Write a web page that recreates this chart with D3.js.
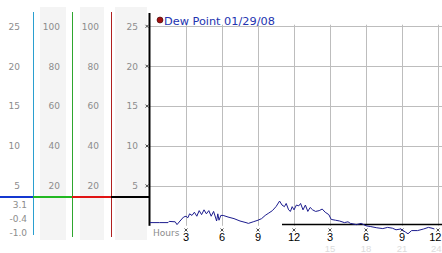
<!DOCTYPE html>
<html lang="en">
<head>
  <meta charset="UTF-8">
  <title>Dew Point 01/29/08</title>
  <script src="https://d3js.org/d3.v7.min.js"></script>
  <style>
    body { margin: 0; padding: 0; background: #fff; }
    svg { display: block; }
  </style>
</head>
<body>
  <script>
    // dew point readings, [hour, value]
    const dewPoint = [
      [0, 0.4], [0.8, 0.4], [1.5, 0.4], [1.6, 0.55], [2.1, 0.5], [2.25, 0.15], [2.5, 0.6],
      [2.8, 1.1], [3.0, 1.2], [3.15, 1.0], [3.3, 1.5], [3.5, 1.3], [3.7, 1.7], [3.9, 1.2],
      [4.1, 1.9], [4.3, 1.4], [4.5, 2.0], [4.7, 1.5], [4.9, 1.9], [5.1, 1.2], [5.3, 1.8],
      [5.45, 1.1], [5.55, 0.6], [5.65, 1.5], [5.75, 0.7], [5.9, 1.3], [6.1, 1.3], [6.5, 1.1],
      [7.0, 0.9], [7.5, 0.6], [8.0, 0.4], [8.2, 0.3], [8.6, 0.5], [9.0, 0.7], [9.3, 0.9],
      [9.6, 1.3], [9.9, 1.6], [10.2, 1.9], [10.5, 2.4], [10.8, 3.1], [11.0, 2.6], [11.2, 2.4],
      [11.35, 2.8], [11.55, 2.0], [11.7, 1.8], [11.85, 2.4], [12.0, 2.0], [12.2, 2.6],
      [12.4, 2.5], [12.55, 2.8], [12.75, 2.0], [12.95, 2.6], [13.15, 1.8], [13.35, 2.3],
      [13.55, 2.0], [13.8, 1.8], [14.1, 1.9], [14.35, 2.1], [14.6, 1.7], [14.9, 1.4],
      [15.1, 0.8], [15.45, 0.7], [15.8, 0.6], [16.2, 0.4], [16.5, 0.5], [16.7, 0.3],
      [17.2, 0.15], [17.6, 0.3], [18.0, 0.0], [18.4, -0.1], [18.9, -0.25], [19.4, -0.35],
      [19.8, -0.2], [20.2, -0.3], [20.5, -0.5], [20.9, -0.4], [21.3, -0.8], [21.5, -1.0],
      [21.8, -0.6], [22.3, -0.6], [22.8, -0.4], [23.2, -0.2], [23.5, -0.3], [23.7, -0.4]
    ];

    const hourTicks = [3, 6, 9, 12, 15, 18, 21, 24];
    const hourLabels = ["3", "6", "9", "12", "3", "6", "9", "12"];
    const hourFaint = ["", "", "", "", "15", "18", "21", "24"];
    const gridValues = [5, 10, 15, 20, 25];

    // left side scales for the other readings
    const col1Labels = [25, 20, 15, 10, 5];
    const col2Labels = [100, 80, 60, 40, 20];
    const col3Labels = [100, 80, 60, 40, 20];
    const col4Labels = [25, 20, 15, 10, 5];
    const statLabels = ["3.1", "-0.4", "-1.0"];   // max, now, min
    const markerLevel = 3.6;

    const width = 442, height = 253;

    const x = d3.scaleLinear().domain([0, 24]).range([150, 438]);
    const y = d3.scaleLinear().domain([0, 25]).range([225.8, 26.3]);

    const svg = d3.create("svg")
        .attr("width", width)
        .attr("height", height)
        .attr("style", "font-family: 'DejaVu Sans', sans-serif;");

    // grey bands behind the middle columns
    [[40, 26], [80, 24], [115, 32]].forEach(b => {
      svg.append("rect")
        .attr("x", b[0]).attr("y", 7)
        .attr("width", b[1]).attr("height", 233)
        .attr("fill", "#f4f4f4");
    });

    // column labels
    const cols = [
      { labels: col1Labels, xr: 20, k: 1 },
      { labels: col2Labels, xr: 60, k: 4 },
      { labels: col3Labels, xr: 99, k: 4 },
      { labels: col4Labels, xr: 138, k: 1 }
    ];
    cols.forEach(c => {
      svg.append("g")
        .selectAll("text")
        .data(c.labels)
        .join("text")
          .attr("x", c.xr)
          .attr("y", d => y(d / c.k) + 3.3)
          .attr("text-anchor", "end")
          .attr("font-size", 9)
          .attr("fill", "#8c8c8c")
          .text(d => d);
    });

    svg.append("g")
      .selectAll("text")
      .data(statLabels)
      .join("text")
        .attr("x", 27)
        .attr("y", (d, i) => 208 + i * 13.8)
        .attr("text-anchor", "end")
        .attr("font-size", 9)
        .attr("fill", "#8c8c8c")
        .text(d => d);

    // coloured dividers
    const dividers = [
      { x: 33, color: "#2a9fd0", y2: 235 },
      { x: 72, color: "#2ea62e", y2: 237 },
      { x: 111, color: "#b02020", y2: 237 }
    ];
    dividers.forEach(d => {
      svg.append("line")
        .attr("x1", d.x + 0.5).attr("x2", d.x + 0.5)
        .attr("y1", 12).attr("y2", d.y2)
        .attr("stroke", d.color).attr("stroke-width", 1);
    });

    // horizontal marker across the left panel
    const segs = [[0, 33, "#1438d0"], [33, 72, "#22b822"], [72, 111, "#e01414"], [111, 149, "#000"]];
    segs.forEach(s => {
      svg.append("line")
        .attr("x1", s[0]).attr("x2", s[1])
        .attr("y1", y(markerLevel)).attr("y2", y(markerLevel))
        .attr("stroke", s[2]).attr("stroke-width", 2);
    });

    // grid
    svg.append("g")
        .attr("stroke", "#bdbdbd")
        .attr("stroke-width", 1)
      .selectAll("line")
      .data(gridValues)
      .join("line")
        .attr("x1", 149).attr("x2", width)
        .attr("y1", d => Math.round(y(d)) + 0.5)
        .attr("y2", d => Math.round(y(d)) + 0.5);

    svg.append("g")
        .attr("stroke", "#bdbdbd")
        .attr("stroke-width", 1)
      .selectAll("line")
      .data(hourTicks)
      .join("line")
        .attr("x1", d => Math.round(x(d)) + 0.5)
        .attr("x2", d => Math.round(x(d)) + 0.5)
        .attr("y1", y(25.2)).attr("y2", y(0));

    // zero line (only drawn on the later part)
    svg.append("line")
      .attr("x1", x(11)).attr("x2", width)
      .attr("y1", y(0.15)).attr("y2", y(0.15))
      .attr("stroke", "#000").attr("stroke-width", 1.5);

    // left axis
    svg.append("line")
      .attr("x1", 149.5).attr("x2", 149.5)
      .attr("y1", 13).attr("y2", y(0))
      .attr("stroke", "#000").attr("stroke-width", 2);

    // little x marks on the axes
    const cross = (cx, cy) => `M${cx - 1.5},${cy - 1.5}L${cx + 1.5},${cy + 1.5}M${cx + 1.5},${cy - 1.5}L${cx - 1.5},${cy + 1.5}`;
    svg.append("path")
      .attr("d", gridValues.map(v => cross(147, y(v))).join(""))
      .attr("stroke", "#222").attr("stroke-width", 0.8);
    svg.append("path")
      .attr("d", hourTicks.map(h => cross(x(h), 230)).join(""))
      .attr("stroke", "#222").attr("stroke-width", 0.8);

    // dew point line
    const line = d3.line()
        .x(d => x(d[0]))
        .y(d => y(d[1]));

    svg.append("path")
      .datum(dewPoint)
      .attr("fill", "none")
      .attr("stroke", "#1c1c8e")
      .attr("stroke-width", 1)
      .attr("d", line);

    // hour labels
    svg.append("text")
      .attr("x", 153).attr("y", 235.5)
      .attr("font-size", 9)
      .attr("fill", "#8c8c8c")
      .text("Hours");

    const last = hourTicks.length - 1;
    const labelX = (d, i) => i === last ? width - 0.5 : x(d);
    const labelAnchor = (d, i) => i === last ? "end" : "middle";

    svg.append("g")
      .selectAll("text")
      .data(hourTicks)
      .join("text")
        .attr("x", labelX)
        .attr("y", 241)
        .attr("text-anchor", labelAnchor)
        .attr("font-family", "'Liberation Sans', sans-serif")
        .attr("font-size", 11)
        .attr("fill", "#000")
        .text((d, i) => hourLabels[i]);

    svg.append("g")
      .selectAll("text")
      .data(hourTicks)
      .join("text")
        .attr("x", labelX)
        .attr("y", 252)
        .attr("text-anchor", labelAnchor)
        .attr("font-family", "'Liberation Sans', sans-serif")
        .attr("font-size", 9.5)
        .attr("fill", "#dcdcdc")
        .text((d, i) => hourFaint[i]);

    // legend
    svg.append("circle")
      .attr("cx", 160).attr("cy", 20).attr("r", 3)
      .attr("fill", "#a01010").attr("stroke", "#3a0000").attr("stroke-width", 0.6);
    svg.append("text")
      .attr("x", 164).attr("y", 24.5)
      .attr("font-size", 11.3)
      .attr("fill", "#2233b0")
      .text("Dew Point 01/29/08");

    document.body.appendChild(svg.node());
  </script>
</body>
</html>
